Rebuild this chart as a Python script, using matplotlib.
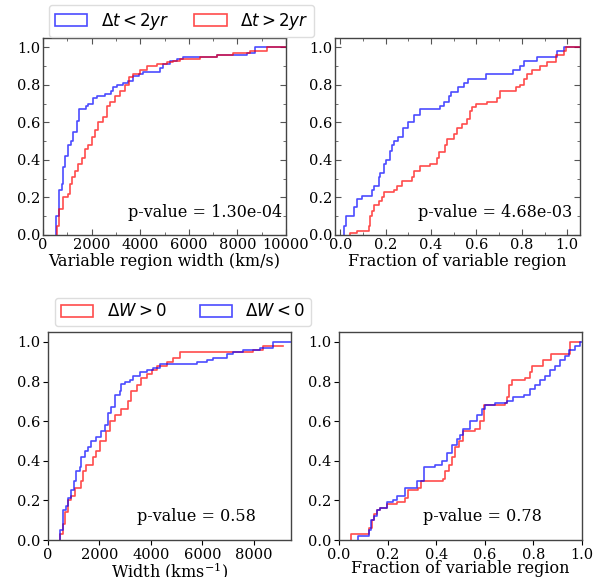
import numpy as np
import matplotlib
matplotlib.use('Agg')
from matplotlib import pyplot as plt
import matplotlib.patches as mpatches
from matplotlib.ticker import MultipleLocator

plt.rcParams['font.family'] = 'DejaVu Serif'
plt.rcParams['mathtext.fontset'] = 'dejavusans'

# ---- top row: split by time baseline ----
# variable region width (km/s), step positions and cumulative levels
tl_blue_x = [535, 658, 768, 837, 919, 1029, 1152, 1248, 1385, 1468, 1770, 1866, 2071, 2208,
             2551, 2798, 2894, 3032, 3278, 3512, 3690, 3964, 4129, 4815, 4952, 5226, 5501,
             5775, 7147, 8381, 8724]
tl_blue_y = [0.10, 0.24, 0.27, 0.36, 0.42, 0.48, 0.50, 0.55, 0.61, 0.67, 0.69, 0.70, 0.73, 0.74,
             0.75, 0.77, 0.79, 0.80, 0.81, 0.82, 0.85, 0.86, 0.87, 0.89, 0.91, 0.93, 0.94,
             0.95, 0.96, 0.97, 1.0]
tl_red_x = [562, 672, 837, 1015, 1111, 1180, 1317, 1454, 1591, 1728, 1866, 2003, 2140, 2277,
            2483, 2647, 2757, 2963, 3169, 3374, 3553, 3717, 3992, 4266, 4678, 5089, 5363,
            5638, 6461, 7147, 7833, 8519, 9204]
tl_red_y = [0.05, 0.14, 0.20, 0.22, 0.27, 0.31, 0.34, 0.38, 0.41, 0.46, 0.48, 0.52, 0.56, 0.60,
            0.63, 0.69, 0.71, 0.74, 0.77, 0.80, 0.84, 0.86, 0.88, 0.90, 0.91, 0.92, 0.93,
            0.94, 0.95, 0.96, 0.97, 0.98, 1.0]

# fraction of variable region
tr_blue_x = [0.015, 0.026, 0.059, 0.074, 0.096, 0.140, 0.150, 0.169, 0.176, 0.194, 0.203,
             0.218, 0.228, 0.238, 0.253, 0.276, 0.297, 0.326, 0.350, 0.438, 0.459, 0.478,
             0.488, 0.518, 0.547, 0.562, 0.640, 0.762, 0.791, 0.809, 0.868, 0.953, 0.985]
tr_blue_y = [0.05, 0.10, 0.15, 0.19, 0.21, 0.24, 0.26, 0.31, 0.33, 0.38, 0.40,
             0.45, 0.48, 0.50, 0.52, 0.57, 0.60, 0.64, 0.67, 0.69, 0.71, 0.74,
             0.76, 0.79, 0.81, 0.83, 0.86, 0.88, 0.90, 0.93, 0.95, 0.98, 1.0]
tr_red_x = [0.044, 0.074, 0.125, 0.129, 0.140, 0.147, 0.169, 0.184, 0.194, 0.235, 0.250,
            0.272, 0.316, 0.324, 0.353, 0.397, 0.426, 0.434, 0.463, 0.471, 0.500, 0.515,
            0.537, 0.559, 0.571, 0.581, 0.596, 0.647, 0.691, 0.703, 0.772, 0.791, 0.809,
            0.824, 0.846, 0.882, 0.912, 0.949, 0.985, 0.993]
tr_red_y = [0.01, 0.02, 0.05, 0.10, 0.13, 0.16, 0.18, 0.20, 0.23, 0.24, 0.26,
            0.29, 0.31, 0.34, 0.37, 0.38, 0.41, 0.44, 0.48, 0.51, 0.54, 0.57,
            0.59, 0.62, 0.66, 0.68, 0.70, 0.71, 0.73, 0.77, 0.79, 0.80, 0.83,
            0.86, 0.88, 0.90, 0.92, 0.96, 0.98, 1.0]

# ---- bottom row: split by sign of width change ----
bl_blue_x = [455, 584, 714, 779, 909, 1000, 1104, 1234, 1299, 1429, 1558, 1688, 1883, 2078,
             2208, 2338, 2468, 2597, 2792, 2857, 2987, 3182, 3312, 3571, 3831, 4091, 4351,
             5779, 6169, 6429, 6948, 7208, 7597, 8247, 8766]
bl_blue_y = [0.05, 0.15, 0.17, 0.21, 0.25, 0.30, 0.35, 0.37, 0.42, 0.45, 0.47, 0.50, 0.52, 0.55,
             0.58, 0.64, 0.67, 0.73, 0.75, 0.79, 0.80, 0.81, 0.83, 0.85, 0.86, 0.87, 0.89,
             0.90, 0.91, 0.92, 0.94, 0.95, 0.96, 0.97, 1.0]
bl_red_x = [481, 584, 649, 779, 909, 1039, 1299, 1364, 1494, 1753, 1883, 2013, 2273, 2403,
            2597, 2857, 3117, 3247, 3442, 3636, 3831, 4026, 4221, 4610, 4870, 5130, 7987, 8377]
bl_red_y = [0.03, 0.08, 0.14, 0.20, 0.22, 0.26, 0.30, 0.35, 0.38, 0.42, 0.45, 0.50, 0.55, 0.60,
            0.63, 0.66, 0.70, 0.75, 0.78, 0.82, 0.84, 0.86, 0.88, 0.90, 0.92, 0.95, 0.96, 0.98]

br_red_x = [0.048, 0.125, 0.135, 0.145, 0.155, 0.169, 0.199, 0.238, 0.272, 0.286, 0.327, 0.337,
            0.430, 0.437, 0.451, 0.464, 0.478, 0.492, 0.512, 0.560, 0.581, 0.595, 0.684, 0.691,
            0.701, 0.712, 0.766, 0.787, 0.794, 0.839, 0.872, 0.952]
br_red_y = [0.03, 0.06, 0.10, 0.13, 0.15, 0.16, 0.18, 0.19, 0.21, 0.25, 0.26, 0.30,
            0.31, 0.35, 0.38, 0.42, 0.47, 0.50, 0.55, 0.56, 0.60, 0.68, 0.69, 0.72,
            0.78, 0.81, 0.82, 0.85, 0.88, 0.91, 0.94, 1.0]
br_blue_x = [0.080, 0.125, 0.130, 0.144, 0.155, 0.169, 0.196, 0.224, 0.238, 0.272, 0.320, 0.348,
             0.396, 0.423, 0.444, 0.464, 0.485, 0.499, 0.512, 0.540, 0.567, 0.588, 0.602, 0.643,
             0.691, 0.718, 0.760, 0.787, 0.808, 0.828, 0.849, 0.870, 0.890, 0.911, 0.931, 0.945,
             0.973, 0.993]
br_blue_y = [0.02, 0.05, 0.10, 0.12, 0.15, 0.16, 0.19, 0.20, 0.22, 0.26, 0.30, 0.37,
             0.38, 0.40, 0.44, 0.48, 0.51, 0.53, 0.56, 0.60, 0.63, 0.66, 0.68, 0.69,
             0.70, 0.72, 0.73, 0.76, 0.78, 0.81, 0.83, 0.86, 0.88, 0.91, 0.93, 0.96,
             0.98, 1.0]

top_labels = [r'$\Delta t < 2yr$', r'$\Delta t > 2yr$']
bot_labels = [r'$\Delta W > 0$', r'$\Delta W < 0$']
pvals = ['p-value = 1.30e-04', 'p-value = 4.68e-03', 'p-value = 0.58', 'p-value = 0.78']

BLUE = (0.0, 0.0, 1.0, 0.7)
RED = (1.0, 0.0, 0.0, 0.7)
TICK_FS = 10.5
LABEL_FS = 11.5


def cdf_line(ax, xs, ys, x_end, color):
    x = np.r_[xs[0], xs, x_end]
    y = np.r_[0.0, ys, ys[-1]]
    ax.step(x, y, where='post', color=color, lw=1.2)


W, H = 594, 577
fig = plt.figure(figsize=(W / 100, H / 100), dpi=100)


def px_axes(x0, y0, x1, y1):
    return fig.add_axes([x0 / W, 1 - y1 / H, (x1 - x0) / W, (y1 - y0) / H])


ax_tl = px_axes(43, 38, 286, 235)
ax_tr = px_axes(335, 38, 580, 235)
ax_bl = px_axes(48, 332, 291, 540)
ax_br = px_axes(339, 332, 582, 540)

cdf_line(ax_tl, tl_blue_x, tl_blue_y, 10500, BLUE)
cdf_line(ax_tl, tl_red_x, tl_red_y, 10500, RED)
ax_tl.set_xlim(0, 10000)
ax_tl.xaxis.set_minor_locator(MultipleLocator(1000))
ax_tl.set_xlabel('Variable region width (km/s)', fontsize=LABEL_FS, labelpad=1)

cdf_line(ax_tr, tr_blue_x, tr_blue_y, 1.1, BLUE)
cdf_line(ax_tr, tr_red_x, tr_red_y, 1.1, RED)
ax_tr.set_xlim(-0.023, 1.056)
ax_tr.xaxis.set_major_locator(MultipleLocator(0.2))
ax_tr.xaxis.set_minor_locator(MultipleLocator(0.1))
ax_tr.set_xlabel('Fraction of variable region', fontsize=LABEL_FS, labelpad=1)

for ax in (ax_tl, ax_tr):
    ax.set_ylim(0, 1.05)
    ax.yaxis.set_major_locator(MultipleLocator(0.2))
    ax.yaxis.set_minor_locator(MultipleLocator(0.1))
    ax.tick_params(which='both', direction='in', top=True, right=True,
                   labelsize=TICK_FS, color='#555555', pad=2)
    ax.tick_params(which='major', length=4)
    ax.tick_params(which='minor', length=2)

cdf_line(ax_bl, bl_red_x, bl_red_y, 9156, RED)
cdf_line(ax_bl, bl_blue_x, bl_blue_y, 10000, BLUE)
ax_bl.set_xlim(0, 9450)
ax_bl.xaxis.set_major_locator(MultipleLocator(2000))
ax_bl.set_xlabel('Width (kms$^{-1}$)', fontsize=LABEL_FS, labelpad=-1,
                 math_fontfamily='dejavuserif')

cdf_line(ax_br, br_red_x, br_red_y, 0.99, RED)
cdf_line(ax_br, br_blue_x, br_blue_y, 1.05, BLUE)
ax_br.set_xlim(0, 1.0)
ax_br.xaxis.set_major_locator(MultipleLocator(0.2))
ax_br.set_xlabel('Fraction of variable region', fontsize=LABEL_FS, labelpad=-1)

for ax in (ax_bl, ax_br):
    ax.set_ylim(0, 1.05)
    ax.yaxis.set_major_locator(MultipleLocator(0.2))
    ax.tick_params(which='major', direction='out', length=3.5, labelsize=TICK_FS, pad=2)

for ax in (ax_tl, ax_tr, ax_bl, ax_br):
    for sp in ax.spines.values():
        sp.set_color('#444444')
        sp.set_linewidth(1.0)

ax_tl.text(0.985, 0.115, pvals[0], transform=ax_tl.transAxes, ha='right', va='center',
           fontsize=LABEL_FS)
ax_tr.text(0.97, 0.115, pvals[1], transform=ax_tr.transAxes, ha='right', va='center',
           fontsize=LABEL_FS)
ax_bl.text(0.61, 0.115, pvals[2], transform=ax_bl.transAxes, ha='center', va='center',
           fontsize=LABEL_FS)
ax_br.text(0.59, 0.115, pvals[3], transform=ax_br.transAxes, ha='center', va='center',
           fontsize=LABEL_FS)

top_handles = [mpatches.Patch(facecolor='none', edgecolor=BLUE, lw=1.2),
               mpatches.Patch(facecolor='none', edgecolor=RED, lw=1.2)]
bot_handles = [mpatches.Patch(facecolor='none', edgecolor=RED, lw=1.2),
               mpatches.Patch(facecolor='none', edgecolor=BLUE, lw=1.2)]
leg_kw = dict(ncol=2, fontsize=12, loc='center', handlelength=1.95, handleheight=0.7,
              handletextpad=0.8, fancybox=True, edgecolor='#dddddd',
              framealpha=1.0, borderpad=0.35)
fig.legend(top_handles, top_labels, bbox_to_anchor=(181.5 / W, 1 - 21 / H),
           columnspacing=1.5, **leg_kw)
fig.legend(bot_handles, bot_labels, bbox_to_anchor=(183 / W, 1 - 312 / H),
           columnspacing=2.0, **leg_kw)

fig.savefig('out.png', dpi=100)
